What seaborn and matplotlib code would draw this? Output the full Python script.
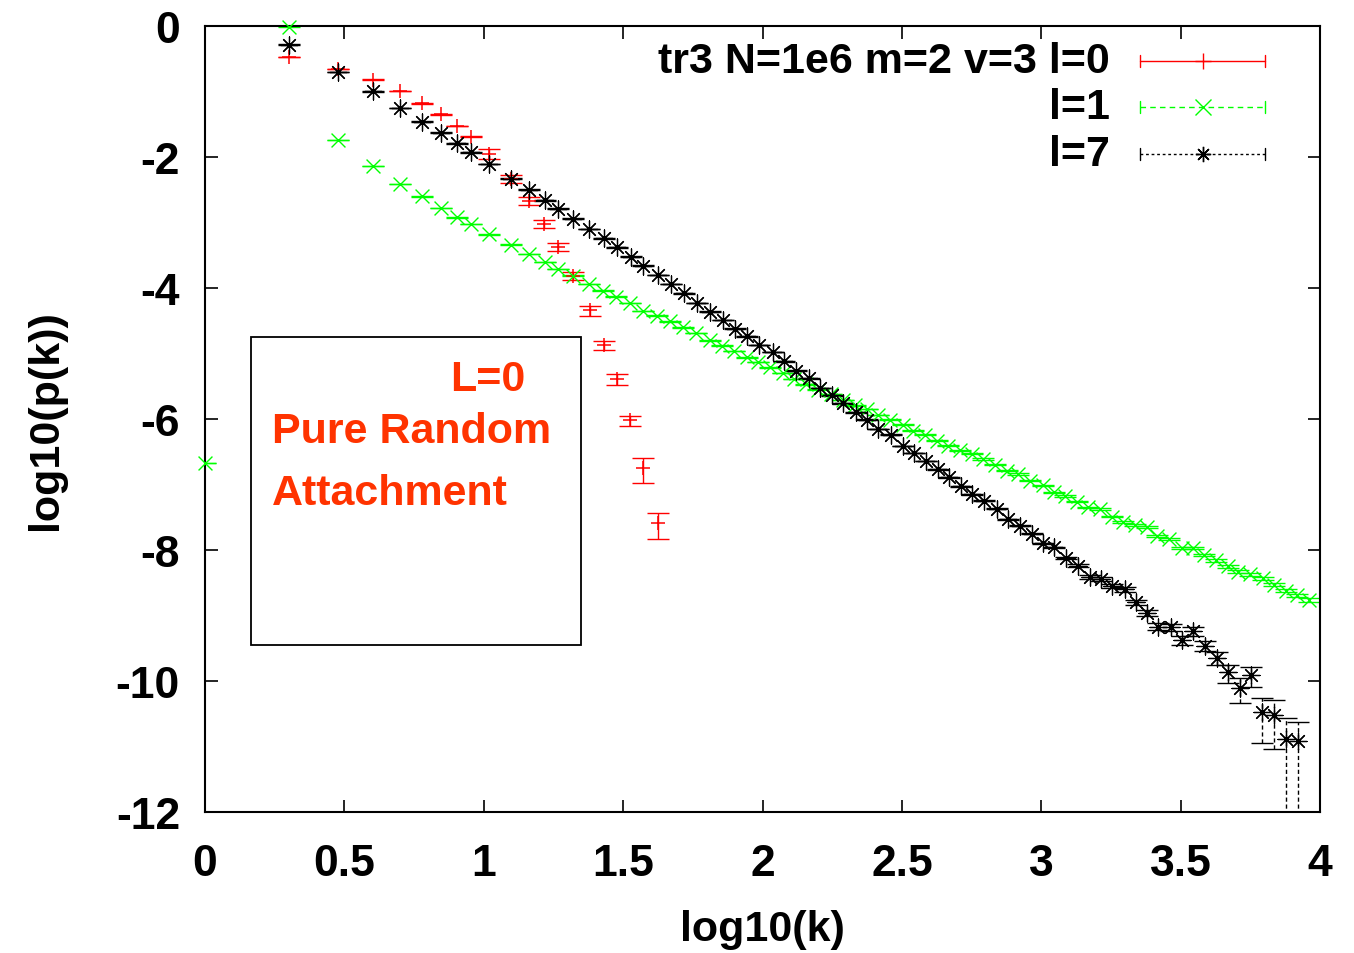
import numpy as np
import pandas as pd
import matplotlib
matplotlib.use("Agg")
import matplotlib.pyplot as plt
from matplotlib.patches import Rectangle
import seaborn as sns

# ---------------- data ----------------
# l=0 (red, pure random attachment)
x_l0 = [0.301, 0.477, 0.602, 0.699, 0.778, 0.845, 0.903, 0.954, 1.020, 1.098,
        1.161, 1.217, 1.265, 1.319, 1.381, 1.431, 1.477, 1.525, 1.573, 1.624]
y_l0 = [-0.47, -0.656, -0.82, -0.99, -1.18, -1.35, -1.53, -1.69, -1.95, -2.33,
        -2.67, -3.02, -3.37, -3.81, -4.34, -4.87, -5.39, -6.02, -6.75, -7.59]
rel_err_l0 = [0.01, 0.01, 0.01, 0.01, 0.01, 0.01, 0.01, 0.02, 0.17, 0.13,
              0.14, 0.14, 0.13, 0.15, 0.17, 0.16, 0.19, 0.18, 0.41, 0.42]

# l=1 (green)
x_l1 = [0.0, 0.301, 0.477, 0.602, 0.699, 0.778, 0.845, 0.903, 0.954, 1.020,
        1.098, 1.161, 1.220, 1.268, 1.321, 1.379, 1.429, 1.474, 1.525, 1.570,
        1.620, 1.668, 1.714, 1.761, 1.812, 1.854, 1.898, 1.943, 1.985, 2.027,
        2.072, 2.114, 2.156, 2.200, 2.245, 2.290, 2.332, 2.374, 2.415, 2.457,
        2.503, 2.541, 2.583, 2.625, 2.667, 2.709, 2.750, 2.792, 2.834, 2.876,
        2.918, 2.960, 3.005, 3.046, 3.085, 3.127, 3.169, 3.211, 3.253, 3.294,
        3.336, 3.378, 3.416, 3.459, 3.504, 3.543, 3.584, 3.627, 3.671, 3.707,
        3.749, 3.794, 3.836, 3.878, 3.918, 3.962]
y_l1 = [-6.67, -0.01, -1.74, -2.14, -2.41, -2.60, -2.78, -2.92, -3.02, -3.18,
        -3.34, -3.48, -3.60, -3.71, -3.81, -3.94, -4.04, -4.13, -4.23, -4.35,
        -4.42, -4.51, -4.60, -4.69, -4.80, -4.88, -4.96, -5.06, -5.13, -5.21,
        -5.30, -5.39, -5.47, -5.55, -5.62, -5.71, -5.79, -5.85, -5.94, -6.01,
        -6.09, -6.18, -6.24, -6.33, -6.41, -6.48, -6.53, -6.61, -6.70, -6.79,
        -6.84, -6.94, -7.01, -7.12, -7.18, -7.26, -7.35, -7.37, -7.49, -7.57,
        -7.62, -7.65, -7.79, -7.83, -7.97, -7.97, -8.08, -8.16, -8.25, -8.33,
        -8.37, -8.43, -8.53, -8.62, -8.69, -8.76]
rel_err_l1 = [0.01, 0.01, 0.01, 0.01, 0.01, 0.01, 0.01, 0.01, 0.01, 0.01,
              0.01, 0.01, 0.01, 0.01, 0.01, 0.01, 0.01, 0.01, 0.01, 0.01,
              0.01, 0.01, 0.01, 0.01, 0.01, 0.01, 0.01, 0.01, 0.01, 0.01,
              0.01, 0.01, 0.01, 0.01, 0.01, 0.01, 0.01, 0.01, 0.01, 0.01,
              0.02, 0.02, 0.02, 0.02, 0.02, 0.02, 0.02, 0.02, 0.02, 0.02,
              0.02, 0.02, 0.02, 0.03, 0.03, 0.03, 0.03, 0.03, 0.03, 0.03,
              0.03, 0.04, 0.04, 0.04, 0.04, 0.04, 0.04, 0.05, 0.05, 0.05,
              0.05, 0.05, 0.06, 0.06, 0.06, 0.06]

# l=7 (black)
x_l7 = [0.301, 0.477, 0.602, 0.699, 0.778, 0.845, 0.903, 0.954, 1.020, 1.098,
        1.161, 1.220, 1.268, 1.321, 1.379, 1.431, 1.477, 1.527, 1.573, 1.626,
        1.672, 1.720, 1.766, 1.812, 1.860, 1.901, 1.943, 1.988, 2.037, 2.077,
        2.120, 2.166, 2.206, 2.248, 2.290, 2.335, 2.376, 2.415, 2.460, 2.503,
        2.544, 2.587, 2.631, 2.670, 2.712, 2.753, 2.796, 2.840, 2.882, 2.924,
        2.966, 3.006, 3.046, 3.089, 3.133, 3.175, 3.214, 3.253, 3.301, 3.340,
        3.380, 3.420, 3.464, 3.504, 3.545, 3.587, 3.629, 3.671, 3.713, 3.752,
        3.793, 3.835, 3.877, 3.920]
y_l7 = [-0.285, -0.70, -1.00, -1.25, -1.46, -1.63, -1.79, -1.93, -2.11, -2.33,
        -2.50, -2.66, -2.79, -2.94, -3.10, -3.24, -3.38, -3.52, -3.66, -3.80,
        -3.94, -4.08, -4.23, -4.36, -4.49, -4.62, -4.74, -4.87, -4.98, -5.12,
        -5.26, -5.38, -5.53, -5.64, -5.76, -5.90, -6.01, -6.15, -6.24, -6.41,
        -6.52, -6.64, -6.77, -6.89, -7.03, -7.15, -7.25, -7.37, -7.53, -7.63,
        -7.75, -7.90, -7.96, -8.12, -8.24, -8.41, -8.44, -8.55, -8.60, -8.80,
        -8.96, -9.17, -9.18, -9.38, -9.24, -9.46, -9.65, -9.87, -10.10, -9.91,
        -10.48, -10.52, -10.88, -10.92]
rel_err_l7 = [0.01, 0.01, 0.01, 0.01, 0.01, 0.01, 0.01, 0.01, 0.01, 0.01,
              0.01, 0.01, 0.01, 0.01, 0.01, 0.01, 0.01, 0.01, 0.01, 0.01,
              0.01, 0.01, 0.01, 0.01, 0.01, 0.01, 0.01, 0.01, 0.01, 0.01,
              0.01, 0.01, 0.01, 0.01, 0.01, 0.01, 0.01, 0.01, 0.01, 0.01,
              0.01, 0.01, 0.02, 0.02, 0.02, 0.02, 0.02, 0.02, 0.02, 0.02,
              0.02, 0.03, 0.03, 0.04, 0.05, 0.06, 0.06, 0.07, 0.08, 0.09,
              0.10, 0.12, 0.12, 0.15, 0.14, 0.18, 0.22, 0.30, 0.42, 0.35,
              0.66, 0.70, 1.05, 1.00]

series_labels = ["tr3 N=1e6 m=2 v=3 l=0", "l=1", "l=7"]
series_colors = ["#ff0000", "#00ff00", "#000000"]

x_ticks = [0, 0.5, 1, 1.5, 2, 2.5, 3, 3.5, 4]
x_tick_labels = ["0", "0.5", "1", "1.5", "2", "2.5", "3", "3.5", "4"]
y_ticks = [0, -2, -4, -6, -8, -10, -12]
y_tick_labels = ["0", "-2", "-4", "-6", "-8", "-10", "-12"]

annotation_lines = ["L=0", "Pure Random", "Attachment"]

# ---------------- style ----------------
sns.set_style("white")
plt.rcParams["font.family"] = ["Liberation Sans", "DejaVu Sans"]
plt.rcParams["font.weight"] = "bold"
plt.rcParams["text.color"] = "black"
plt.rcParams["axes.labelcolor"] = "black"

fig = plt.figure(figsize=(13.54, 9.54), dpi=100)
ax = fig.add_axes([0.1514, 0.1478, 0.8235, 0.8239])

star = (8, 2, 0)
markers = ["+", "x", star]
marker_sizes = [110, 100, 150]
marker_lw = [1.1, 1.0, 0.9]
dashes = ["-", (0, (4, 3)), (0, (2, 2))]

datasets = [
    (x_l0, y_l0, rel_err_l0),
    (x_l1, y_l1, rel_err_l1),
    (x_l7, y_l7, rel_err_l7),
]

for i, (xs, ys, rel) in enumerate(datasets):
    df = pd.DataFrame({"x": xs, "y": ys, "r": rel})
    upper = np.log10(1 + df["r"].to_numpy())
    lo_frac = 1 - df["r"].to_numpy()
    lower = np.where(lo_frac > 0, -np.log10(np.clip(lo_frac, 1e-9, None)), 20.0)
    eb = ax.errorbar(df["x"], df["y"], yerr=[lower, upper], fmt="none",
                     ecolor=series_colors[i], elinewidth=1.0, capsize=8,
                     capthick=1.0, zorder=2)
    if i > 0:
        for lc in eb[2]:
            lc.set_linestyle((0, (3, 2)))
    sns.scatterplot(data=df, x="x", y="y", ax=ax, marker=markers[i],
                    color=series_colors[i], s=marker_sizes[i],
                    linewidth=marker_lw[i], legend=False, zorder=3,
                    clip_on=False)

ax.set_xlim(0, 4)
ax.set_ylim(-12, 0)
ax.set_xticks(x_ticks, labels=x_tick_labels)
ax.set_yticks(y_ticks, labels=y_tick_labels)
ax.tick_params(axis="both", direction="in", length=9, width=1.2,
               top=True, right=True, bottom=True, left=True, labelsize=32,
               colors="black")
ax.tick_params(axis="x", pad=22)
ax.tick_params(axis="y", pad=18)
for sp in ax.spines.values():
    sp.set_color("black")
    sp.set_linewidth(1.5)

ax.set_xlabel("log10(k)", fontsize=31, fontweight="bold", color="black")
ax.set_ylabel("log10(p(k))", fontsize=31, fontweight="bold", color="black")
ax.xaxis.set_label_coords(0.5, -0.124)
ax.yaxis.set_label_coords(-0.125, 0.5)

# ---------------- key (gnuplot style) ----------------
key_y = [0.9555, 0.897, 0.837]
x0, x1, xm = 0.8386, 0.9507, 0.895
d = 0.008
for i, lab in enumerate(series_labels):
    yy = key_y[i]
    ax.text(0.8117, yy, lab, transform=ax.transAxes, ha="right", va="center",
            fontsize=31, fontweight="bold", color="black")
    ax.plot([x0, x1], [yy, yy], transform=ax.transAxes, color=series_colors[i],
            lw=1.0, ls=dashes[i], clip_on=False)
    for xe in (x0, x1):
        ax.plot([xe, xe], [yy - d, yy + d], transform=ax.transAxes,
                color=series_colors[i], lw=1.0, clip_on=False)
    ax.plot([xm], [yy], transform=ax.transAxes, marker=markers[i],
            color=series_colors[i], ms=11, mew=1.0, ls="none", clip_on=False)

# ---------------- annotation box ----------------
ax.add_patch(Rectangle((0.0413, 0.2125), 0.296, 0.3919, transform=ax.transAxes,
                       fill=False, edgecolor="black", lw=1.3, zorder=4))
anno_color = "#ff3300"
ax.text(0.287, 0.5369, annotation_lines[0], transform=ax.transAxes, ha="right",
        va="baseline", fontsize=31, fontweight="bold", color=anno_color)
ax.text(0.0601, 0.4707, annotation_lines[1], transform=ax.transAxes, ha="left",
        va="baseline", fontsize=31, fontweight="bold", color=anno_color)
ax.text(0.0601, 0.3919, annotation_lines[2], transform=ax.transAxes, ha="left",
        va="baseline", fontsize=31, fontweight="bold", color=anno_color)

fig.savefig("out.png", dpi=100)
